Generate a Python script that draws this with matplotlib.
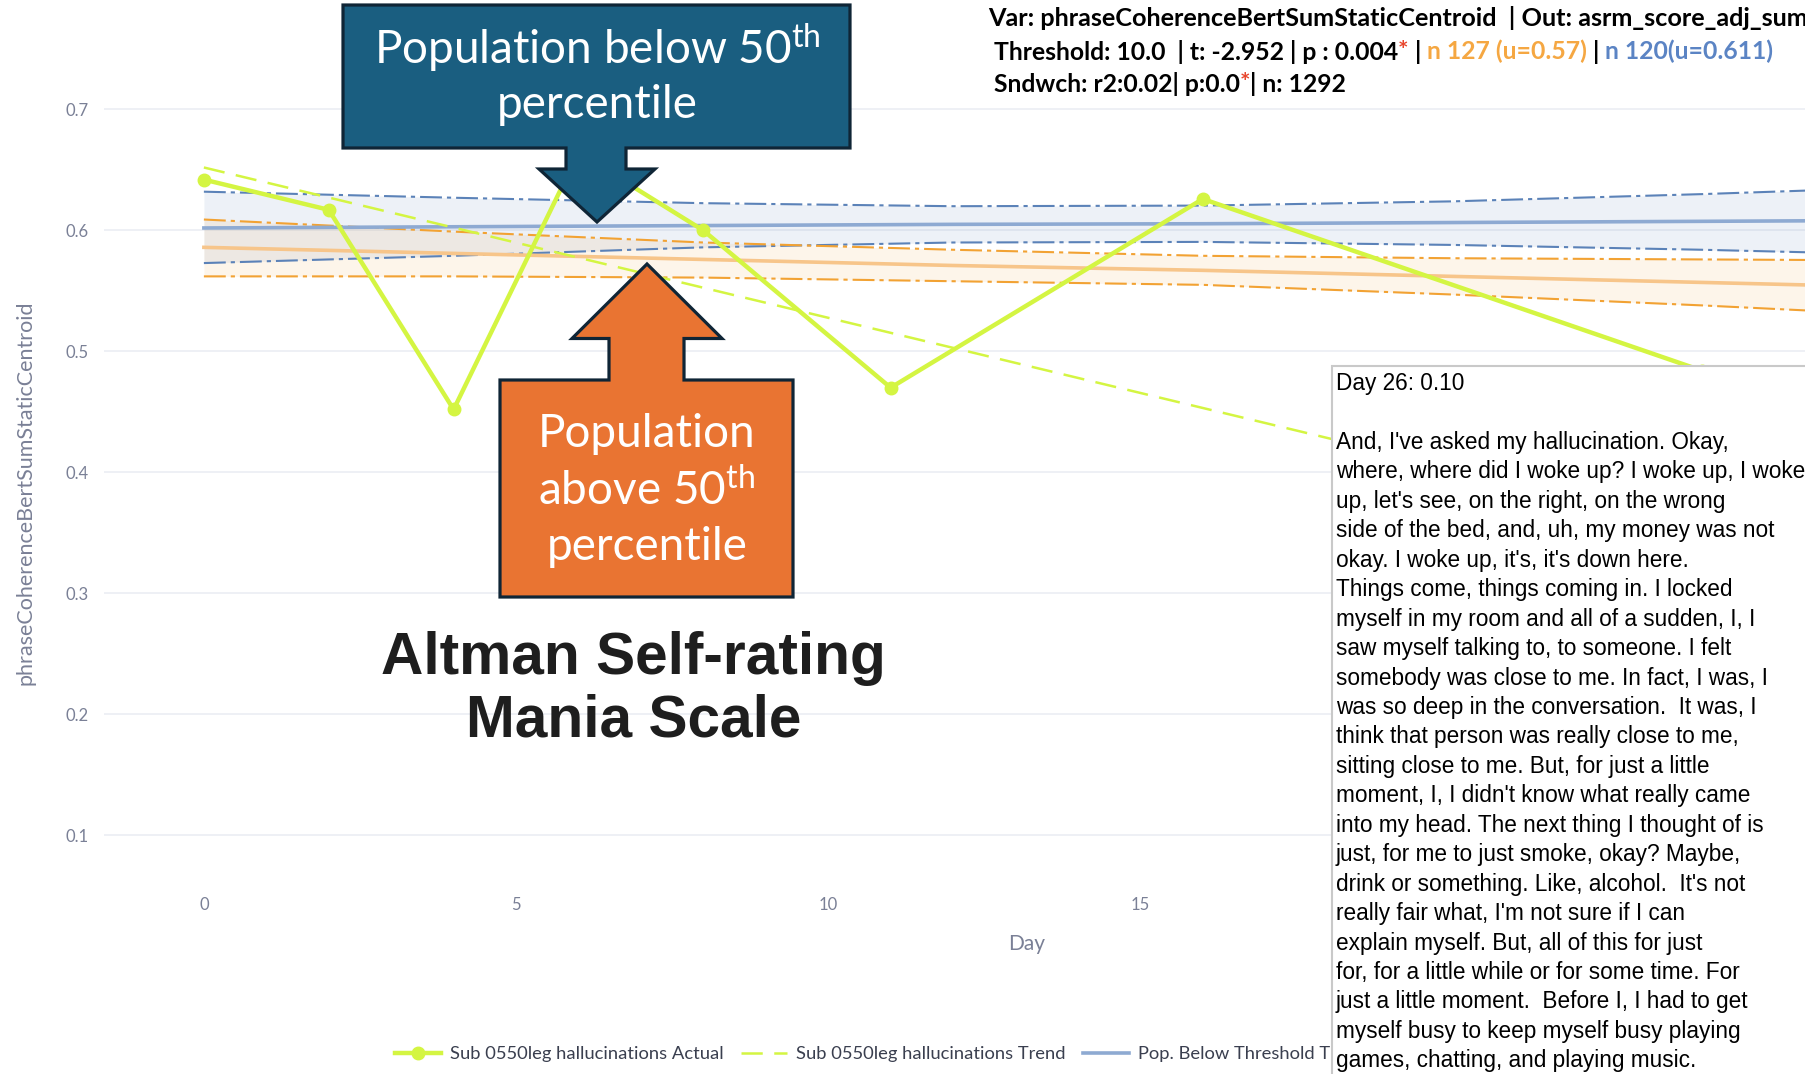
import matplotlib
matplotlib.use("Agg")
import matplotlib.pyplot as plt
from matplotlib.patches import Polygon, Rectangle
from matplotlib.transforms import Affine2D

W, H, DPI = 1806, 1074, 100

# ---------------- data ----------------
actual_days = [0, 2, 4, 6, 8, 11, 16, 24, 26]
actual_vals = [0.642, 0.617, 0.452, 0.664, 0.600, 0.470, 0.626, 0.484, 0.10]
trend_days = [0, 26]
trend_vals = [0.652, 0.329]

pop_days = [0, 4, 8, 12, 16, 20, 24, 28]
below_trend = [0.602, 0.603, 0.604, 0.605, 0.6055, 0.6065, 0.6075, 0.6085]
below_upper = [0.632, 0.627, 0.6225, 0.620, 0.6205, 0.624, 0.630, 0.637]
below_lower = [0.573, 0.579, 0.586, 0.590, 0.5905, 0.588, 0.584, 0.579]
above_trend = [0.586, 0.581, 0.576, 0.571, 0.567, 0.562, 0.557, 0.552]
above_upper = [0.609, 0.599, 0.590, 0.584, 0.579, 0.577, 0.576, 0.575]
above_lower = [0.562, 0.562, 0.561, 0.558, 0.555, 0.547, 0.538, 0.528]

yticks = [0.1, 0.2, 0.3, 0.4, 0.5, 0.6, 0.7]
xticks = [0, 5, 10, 15]

legend_labels = ["Sub 0550leg hallucinations Actual",
                 "Sub 0550leg hallucinations Trend",
                 "Pop. Below Threshold Trend"]

header1 = [("Var: phraseCoherenceBertSumStaticCentroid  | Out: asrm_score_adj_sum", "k")]
header2 = [("Threshold: 10.0  | t: -2.952 | p : 0.004", "k"), ("*", "#e8452c"),
           (" | ", "k"), ("n 127 (u=0.57)", "#f5a742"), (" | ", "k"),
           ("n 120(u=0.611)", "#5b84c4")]
header3 = [("Sndwch: r2:0.02| p:0.0", "k"), ("*", "#e8452c"), ("| n: 1292", "k")]

hover_title = "Day 26: 0.10"
hover_lines = [
    "And, I've asked my hallucination. Okay,",
    "where, where did I woke up? I woke up, I woke",
    "up, let's see, on the right, on the wrong",
    "side of the bed, and, uh, my money was not",
    "okay. I woke up, it's, it's down here.",
    "Things come, things coming in. I locked",
    "myself in my room and all of a sudden, I, I",
    "saw myself talking to, to someone. I felt",
    "somebody was close to me. In fact, I was, I",
    "was so deep in the conversation.  It was, I",
    "think that person was really close to me,",
    "sitting close to me. But, for just a little",
    "moment, I, I didn't know what really came",
    "into my head. The next thing I thought of is",
    "just, for me to just smoke, okay? Maybe,",
    "drink or something. Like, alcohol.  It's not",
    "really fair what, I'm not sure if I can",
    "explain myself. But, all of this for just",
    "for, for a little while or for some time. For",
    "just a little moment.  Before I, I had to get",
    "myself busy to keep myself busy playing",
    "games, chatting, and playing music.",
]

# ---------------- figure ----------------
plt.rcParams["font.family"] = ["Lato", "DejaVu Sans"]
plt.rcParams["mathtext.fontset"] = "custom"
plt.rcParams["mathtext.rm"] = "Lato"
plt.rcParams["mathtext.it"] = "Lato:italic"
plt.rcParams["mathtext.bf"] = "Lato:bold"

fig = plt.figure(figsize=(W / DPI, H / DPI), dpi=DPI)
fig.patch.set_facecolor("white")
T = Affine2D().scale(1.0 / W, -1.0 / H).translate(0, 1) + fig.transFigure

left, right, top, bottom = 104, 1927, 103, 880
ax = fig.add_axes([left / W, 1 - bottom / H, (right - left) / W, (bottom - top) / H])
ax.set_xlim(-1.6, 27.6)
ax.set_ylim(0.0631, 0.7053)
for s in ax.spines.values():
    s.set_visible(False)
ax.set_facecolor("white")
ax.set_yticks(yticks)
ax.set_yticklabels([f"{v:.1f}" for v in yticks])
ax.set_xticks(xticks)
ax.set_xticklabels([str(v) for v in xticks])
tick_col = "#7a8096"
ax.tick_params(axis="both", length=0, labelsize=12, labelcolor=tick_col)
ax.tick_params(axis="y", pad=11)
ax.tick_params(axis="x", pad=12)
ax.grid(axis="y", color="#e9ecf3", lw=1.1, zorder=0)
ax.set_axisbelow(True)

blue, orange = "#6387be", "#f5a742"
ax.fill_between(pop_days, below_lower, below_upper, color=blue, alpha=0.11, lw=0, zorder=1)
ax.fill_between(pop_days, above_lower, above_upper, color=orange, alpha=0.11, lw=0, zorder=1)
dd = (0, (10.5, 2.4, 2.0, 2.4))
ax.plot(pop_days, below_upper, color="#5b82b8", lw=1.5, ls=dd, zorder=2)
ax.plot(pop_days, below_lower, color="#5b82b8", lw=1.5, ls=dd, zorder=2)
ax.plot(pop_days, above_upper, color="#f2a233", lw=1.5, ls=dd, zorder=2)
ax.plot(pop_days, above_lower, color="#f2a233", lw=1.5, ls=dd, zorder=2)
ln_bt, = ax.plot(pop_days, below_trend, color="#8eaad2", lw=2.6, zorder=3)
ax.plot(pop_days, above_trend, color="#f7c58a", lw=2.6, zorder=3)

yg = "#d4f542"
ln_tr, = ax.plot(trend_days, trend_vals, color=yg, lw=1.8, ls=(0, (8.5, 4.6)), zorder=4)
ln_act, = ax.plot(actual_days, actual_vals, color=yg, lw=3.2, marker="o", ms=9, zorder=5)

ax.set_ylabel("phraseCoherenceBertSumStaticCentroid", fontsize=15.5, color=tick_col)
ax.yaxis.set_label_coords(25.3, 493, transform=T)
ax.set_xlabel("Day", fontsize=15, color=tick_col)
ax.xaxis.set_label_coords(1027, 944.5, transform=T)
ax.xaxis.label.set_va("center")
ax.yaxis.label.set_va("center")

leg = fig.legend([ln_act, ln_tr, ln_bt], legend_labels, loc="center left",
                 bbox_to_anchor=(395 / W, 1 - 1054 / H), bbox_transform=fig.transFigure,
                 ncol=3, frameon=False, fontsize=13.2, handlelength=2.51,
                 handletextpad=0.49, columnspacing=0.95, borderpad=0, borderaxespad=0)
for t in leg.get_texts():
    t.set_color("#3a3f4f")

# ---------------- callouts ----------------
navy_edge = "#0f2536"
blue_pts = [(343, 5), (850, 5), (850, 148), (626, 148), (626, 169), (655, 169),
            (597, 222), (539, 169), (566, 169), (566, 148), (343, 148)]
fig.add_artist(Polygon(blue_pts, closed=True, transform=T, facecolor="#1a5e80",
                       edgecolor=navy_edge, lw=2.3, zorder=6))
orange_pts = [(500, 380), (609, 380), (609, 338.5), (572, 338.5), (647, 264),
              (722, 338.5), (684, 338.5), (684, 380), (793, 380), (793, 597), (500, 597)]
fig.add_artist(Polygon(orange_pts, closed=True, transform=T, facecolor="#e97432",
                       edgecolor=navy_edge, lw=2.3, zorder=6))

cfs = 33
sup = r"50$^{\mathrm{th}}$"
fig.text(597, 48, "Population below " + sup, transform=T, ha="center", va="center",
         color="white", fontsize=cfs, zorder=7)
fig.text(597, 105, "percentile", transform=T, ha="center", va="center",
         color="white", fontsize=cfs, zorder=7)
fig.text(647, 434, "Population", transform=T, ha="center", va="center",
         color="white", fontsize=cfs, zorder=7)
fig.text(647, 490, "above " + sup, transform=T, ha="center", va="center",
         color="white", fontsize=cfs, zorder=7)
fig.text(647, 547, "percentile", transform=T, ha="center", va="center",
         color="white", fontsize=cfs, zorder=7)

fig.text(633.5, 659, "Altman Self-rating", transform=T, ha="center", va="center",
         color="#1e1e1e", fontsize=42.2, fontweight="bold", family="Liberation Sans", zorder=7)
fig.text(633.5, 721, "Mania Scale", transform=T, ha="center", va="center",
         color="#1e1e1e", fontsize=42.2, fontweight="bold", family="Liberation Sans", zorder=7)

# ---------------- header ----------------
renderer = fig.canvas.get_renderer()


def rich(x, y, pieces, size):
    cx = x
    for s, c in pieces:
        t = fig.text(cx, y, s, transform=T, color=c, fontsize=size, fontweight="bold",
                     ha="left", va="center", zorder=7)
        cx += t.get_window_extent(renderer=renderer).width


rich(988, 18.4, header1, 18.2)
rich(994, 51.8, header2, 17.8)
rich(994, 84, header3, 17.8)

# ---------------- hover box ----------------
fig.add_artist(Rectangle((1332.5, 366), 700, 800, transform=T, facecolor="white",
                         edgecolor="#c9c9c9", lw=1.5, zorder=10))
hfs = 16.3
fig.text(1336, 383.5, hover_title, transform=T, ha="left", va="center", color="black",
         fontsize=hfs, family="Liberation Sans", zorder=11)
for i, line in enumerate(hover_lines):
    fig.text(1336, 383.5 + (i + 2) * 29.45, line, transform=T, ha="left", va="center",
             color="black", fontsize=hfs, family="Liberation Sans", zorder=11)

fig.savefig("out.png", dpi=DPI, facecolor="white")
